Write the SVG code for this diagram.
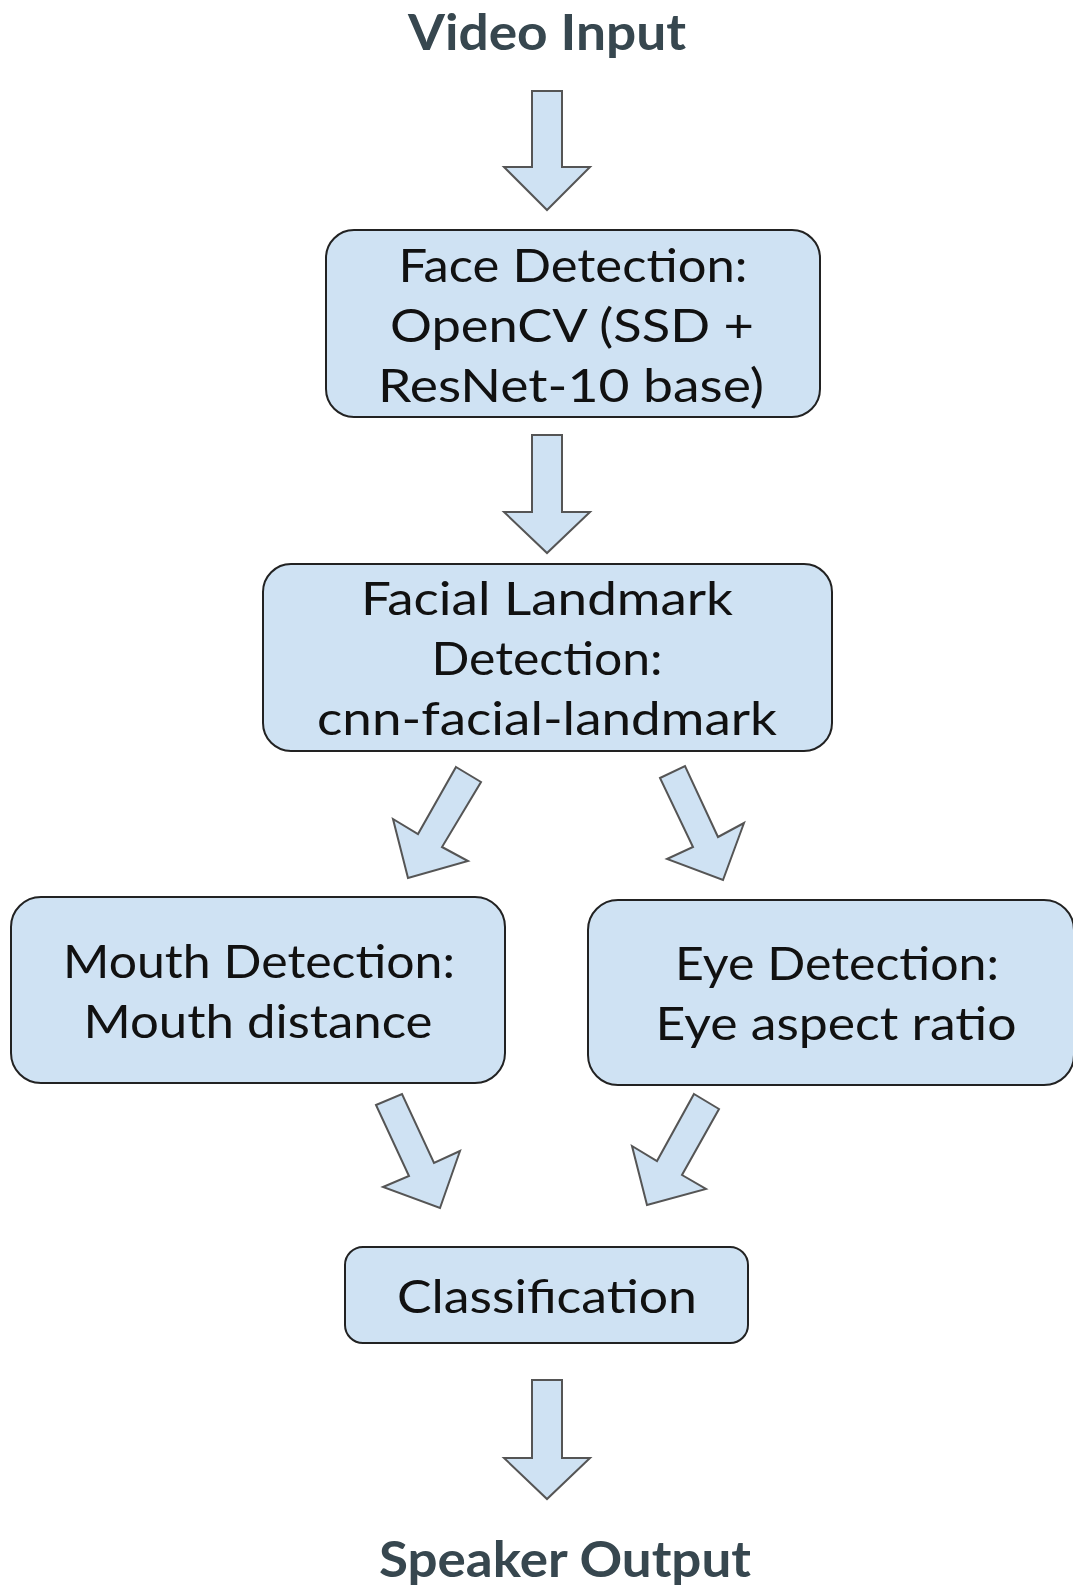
<svg xmlns="http://www.w3.org/2000/svg" width="1073" height="1587" viewBox="0 0 1073 1587">
  <style>
    .box { fill: #cfe2f3; stroke: #222222; stroke-width: 2; }
    .arrow { fill: #cfe2f3; stroke: #555555; stroke-width: 2; stroke-linejoin: miter; }
    .label { font-family: Lato, "Liberation Sans", sans-serif; font-size: 47px; fill: #111111; text-anchor: middle; }
    .title { font-family: Lato, "Liberation Sans", sans-serif; font-weight: bold; font-size: 50px; fill: #37474f; text-anchor: middle; }
  </style>
  <rect width="1073" height="1587" fill="#ffffff"/>

  <!-- block arrows between stages -->
  <g id="connectors">
    <polygon class="arrow" points="532,91 562,91 562,167 590,167 547,210 504,167 532,167"/>
    <polygon class="arrow" points="532,435 562,435 562,512 590,512 547,553 504,512 532,512"/>
    <polygon class="arrow" points="456,767 481,782 442,847 468,861 408,878 393,819 418,834"/>
    <polygon class="arrow" points="660,778 685,766 718,837 744,823 723,880 667,859 693,847"/>
    <polygon class="arrow" points="376,1105 402,1094 434,1163 460,1151 440,1208 383,1187 409,1176"/>
    <polygon class="arrow" points="694,1094 719,1109 682,1175 706,1189 647,1205 632,1146 657,1161"/>
    <polygon class="arrow" points="532,1380 562,1380 562,1458 590,1458 547,1499 504,1458 532,1458"/>
  </g>

  <g id="video-input">
    <text class="title" x="547" y="50" textLength="278" lengthAdjust="spacingAndGlyphs">Video Input</text>
  </g>

  <g id="face-detection">
    <rect class="box" x="326" y="230" width="494" height="187" rx="28"/>
    <text class="label" x="573" y="282" textLength="349" lengthAdjust="spacingAndGlyphs">Face Detection:</text>
    <text class="label" x="572" y="342" textLength="364" lengthAdjust="spacingAndGlyphs">OpenCV (SSD +</text>
    <text class="label" x="571" y="402" textLength="386" lengthAdjust="spacingAndGlyphs">ResNet-10 base)</text>
  </g>

  <g id="facial-landmark-detection">
    <rect class="box" x="263" y="564" width="569" height="187" rx="28"/>
    <text class="label" x="547" y="615" textLength="372" lengthAdjust="spacingAndGlyphs">Facial Landmark</text>
    <text class="label" x="547" y="675" textLength="231" lengthAdjust="spacingAndGlyphs">Detection:</text>
    <text class="label" x="547" y="735" textLength="460" lengthAdjust="spacingAndGlyphs">cnn-facial-landmark</text>
  </g>

  <g id="mouth-detection">
    <rect class="box" x="11" y="897" width="494" height="186" rx="30"/>
    <text class="label" x="259" y="978" textLength="392" lengthAdjust="spacingAndGlyphs">Mouth Detection:</text>
    <text class="label" x="258" y="1038" textLength="349" lengthAdjust="spacingAndGlyphs">Mouth distance</text>
  </g>

  <g id="eye-detection">
    <rect class="box" x="588" y="900" width="486" height="185" rx="30"/>
    <text class="label" x="837" y="980" textLength="324" lengthAdjust="spacingAndGlyphs">Eye Detection:</text>
    <text class="label" x="836" y="1040" textLength="361" lengthAdjust="spacingAndGlyphs">Eye aspect ratio</text>
  </g>

  <g id="classification">
    <rect class="box" x="345" y="1247" width="403" height="96" rx="18"/>
    <text class="label" x="547" y="1313" textLength="300" lengthAdjust="spacingAndGlyphs">Classification</text>
  </g>

  <g id="speaker-output">
    <text class="title" x="565" y="1577" textLength="372" lengthAdjust="spacingAndGlyphs">Speaker Output</text>
  </g>
</svg>
